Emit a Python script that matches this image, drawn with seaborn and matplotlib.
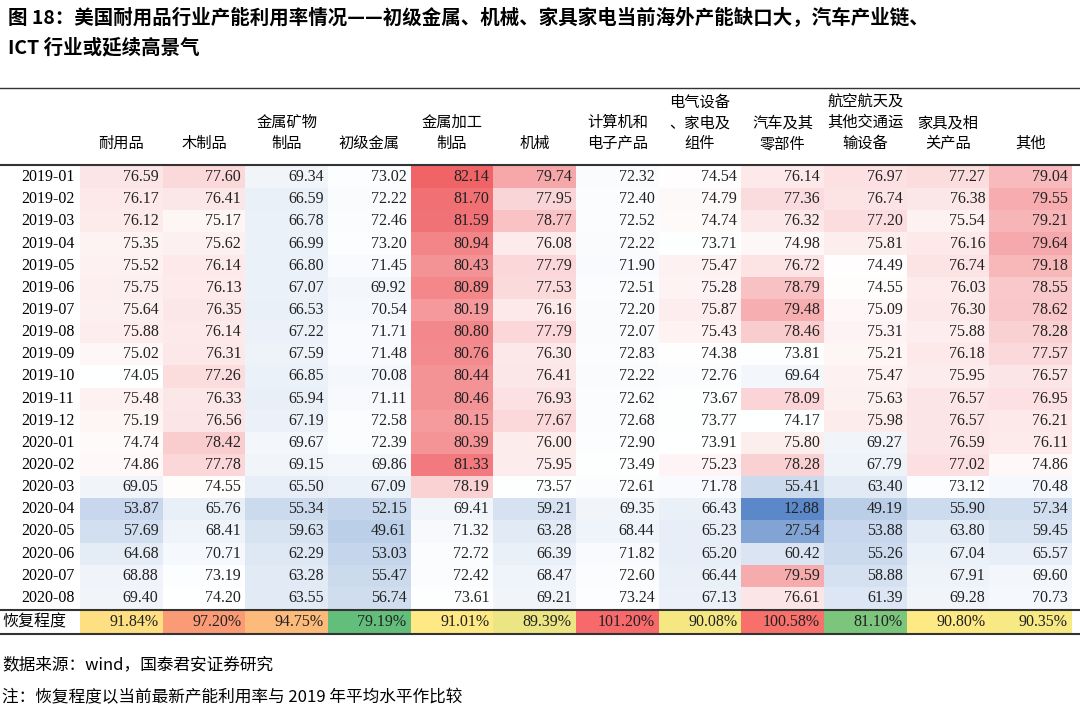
import numpy as np
import pandas as pd
import seaborn as sns
import matplotlib.pyplot as plt
from matplotlib.colors import LinearSegmentedColormap, TwoSlopeNorm

plt.rcParams['font.family'] = ['Noto Sans CJK SC', 'DejaVu Sans']

columns = ["耐用品", "木制品", "金属矿物\n制品", "初级金属", "金属加工\n制品", "机械",
           "计算机和\n电子产品", "电气设备\n、家电及\n组件", "汽车及其\n零部件",
           "航空航天及\n其他交通运\n输设备", "家具及相\n关产品", "其他"]
months = ["2019-01", "2019-02", "2019-03", "2019-04", "2019-05", "2019-06", "2019-07",
          "2019-08", "2019-09", "2019-10", "2019-11", "2019-12", "2020-01", "2020-02",
          "2020-03", "2020-04", "2020-05", "2020-06", "2020-07", "2020-08"]
values = [
    [76.59, 77.60, 69.34, 73.02, 82.14, 79.74, 72.32, 74.54, 76.14, 76.97, 77.27, 79.04],
    [76.17, 76.41, 66.59, 72.22, 81.70, 77.95, 72.40, 74.79, 77.36, 76.74, 76.38, 79.55],
    [76.12, 75.17, 66.78, 72.46, 81.59, 78.77, 72.52, 74.74, 76.32, 77.20, 75.54, 79.21],
    [75.35, 75.62, 66.99, 73.20, 80.94, 76.08, 72.22, 73.71, 74.98, 75.81, 76.16, 79.64],
    [75.52, 76.14, 66.80, 71.45, 80.43, 77.79, 71.90, 75.47, 76.72, 74.49, 76.74, 79.18],
    [75.75, 76.13, 67.07, 69.92, 80.89, 77.53, 72.51, 75.28, 78.79, 74.55, 76.03, 78.55],
    [75.64, 76.35, 66.53, 70.54, 80.19, 76.16, 72.20, 75.87, 79.48, 75.09, 76.30, 78.62],
    [75.88, 76.14, 67.22, 71.71, 80.80, 77.79, 72.07, 75.43, 78.46, 75.31, 75.88, 78.28],
    [75.02, 76.31, 67.59, 71.48, 80.76, 76.30, 72.83, 74.38, 73.81, 75.21, 76.18, 77.57],
    [74.05, 77.26, 66.85, 70.08, 80.44, 76.41, 72.22, 72.76, 69.64, 75.47, 75.95, 76.57],
    [75.48, 76.33, 65.94, 71.11, 80.46, 76.93, 72.62, 73.67, 78.09, 75.63, 76.57, 76.95],
    [75.19, 76.56, 67.19, 72.58, 80.15, 77.67, 72.68, 73.77, 74.17, 75.98, 76.57, 76.21],
    [74.74, 78.42, 69.67, 72.39, 80.39, 76.00, 72.90, 73.91, 75.80, 69.27, 76.59, 76.11],
    [74.86, 77.78, 69.15, 69.86, 81.33, 75.95, 73.49, 75.23, 78.28, 67.79, 77.02, 74.86],
    [69.05, 74.55, 65.50, 67.09, 78.19, 73.57, 72.61, 71.78, 55.41, 63.40, 73.12, 70.48],
    [53.87, 65.76, 55.34, 52.15, 69.41, 59.21, 69.35, 66.43, 12.88, 49.19, 55.90, 57.34],
    [57.69, 68.41, 59.63, 49.61, 71.32, 63.28, 68.44, 65.23, 27.54, 53.88, 63.80, 59.45],
    [64.68, 70.71, 62.29, 53.03, 72.72, 66.39, 71.82, 65.20, 60.42, 55.26, 67.04, 65.57],
    [68.88, 73.19, 63.28, 55.47, 72.42, 68.47, 72.60, 66.44, 79.59, 58.88, 67.91, 69.60],
    [69.40, 74.20, 63.55, 56.74, 73.61, 69.21, 73.24, 67.13, 76.61, 61.39, 69.28, 70.73],
]
recovery = [91.84, 97.20, 94.75, 79.19, 91.01, 89.39, 101.20, 90.08, 100.58, 81.10, 90.80, 90.35]

df = pd.DataFrame(values, index=months, columns=columns)
rec = pd.DataFrame([recovery], index=["恢复程度"], columns=columns)

W, H = 1080, 713
fig = plt.figure(figsize=(W / 100, H / 100), dpi=100)

def box(x0, y0, x1, y1):
    return [x0 / W, 1 - y1 / H, (x1 - x0) / W, (y1 - y0) / H]

cmap_main = LinearSegmentedColormap.from_list(
    "bwr_x", [(0, "#5a88c8"), (0.5, "#ffffff"), (0.75, "#fad2d4"), (1, "#f06468")])
norm_main = TwoSlopeNorm(vmin=12.88, vcenter=74.3, vmax=82.14)
cmap_rec = LinearSegmentedColormap.from_list("gyr", ["#63be7b", "#ffeb84", "#f8696b"])
norm_rec = TwoSlopeNorm(vmin=79.19, vcenter=90.9, vmax=101.20)

ax = fig.add_axes(box(80, 166, 1072, 609))
sns.heatmap(df, ax=ax, cmap=cmap_main, norm=norm_main, cbar=False, annot=True, fmt=".2f",
            annot_kws={"fontsize": 11.5, "color": "#222222", "family": "Liberation Serif"})
ax.xaxis.tick_top()
ax.set_xticklabels(columns, rotation=0, fontsize=11, linespacing=1.3)
ax.set_yticklabels(months, rotation=0, fontsize=11.5, family="Liberation Serif")
ax.tick_params(length=0, pad=4)
ax.tick_params(axis="x", pad=10)

ax2 = fig.add_axes(box(80, 611, 1072, 633))
sns.heatmap(rec, ax=ax2, cmap=cmap_rec, norm=norm_rec, cbar=False, annot=True, fmt=".2f",
            annot_kws={"fontsize": 11.5, "color": "#222222", "family": "Liberation Serif"})
for t in ax2.texts:
    t.set_text(t.get_text() + "%")
ax2.set_xticks([])
ax2.set_yticklabels(["恢复程度"], rotation=0, fontsize=11.5)
ax2.tick_params(length=0, pad=10)

for a in (ax, ax2):
    for t in a.texts:
        x, y = t.get_position()
        t.set_position((x + 0.45, y))
        t.set_ha("right")
    a.set_xlabel("")
    a.set_ylabel("")

# table rules
for y, lw in [(88, 1.0), (165, 1.5), (610, 1.5), (634, 1.5)]:
    fig.add_artist(plt.Line2D([0, 1], [1 - y / H, 1 - y / H], color="#333333", lw=lw))

fig.text(8 / W, 1 - 18 / H, "图 18：美国耐用品行业产能利用率情况——初级金属、机械、家具家电当前海外产能缺口大，汽车产业链、",
         fontsize=14, fontweight="bold", va="center")
fig.text(8 / W, 1 - 48 / H, "ICT 行业或延续高景气", fontsize=14, fontweight="bold", va="center")
fig.text(2 / W, 1 - 665 / H, "数据来源：wind，国泰君安证券研究", fontsize=12, va="center")
fig.text(2 / W, 1 - 698 / H, "注：恢复程度以当前最新产能利用率与 2019 年平均水平作比较", fontsize=12, va="center")

fig.savefig("out.png", dpi=100)
